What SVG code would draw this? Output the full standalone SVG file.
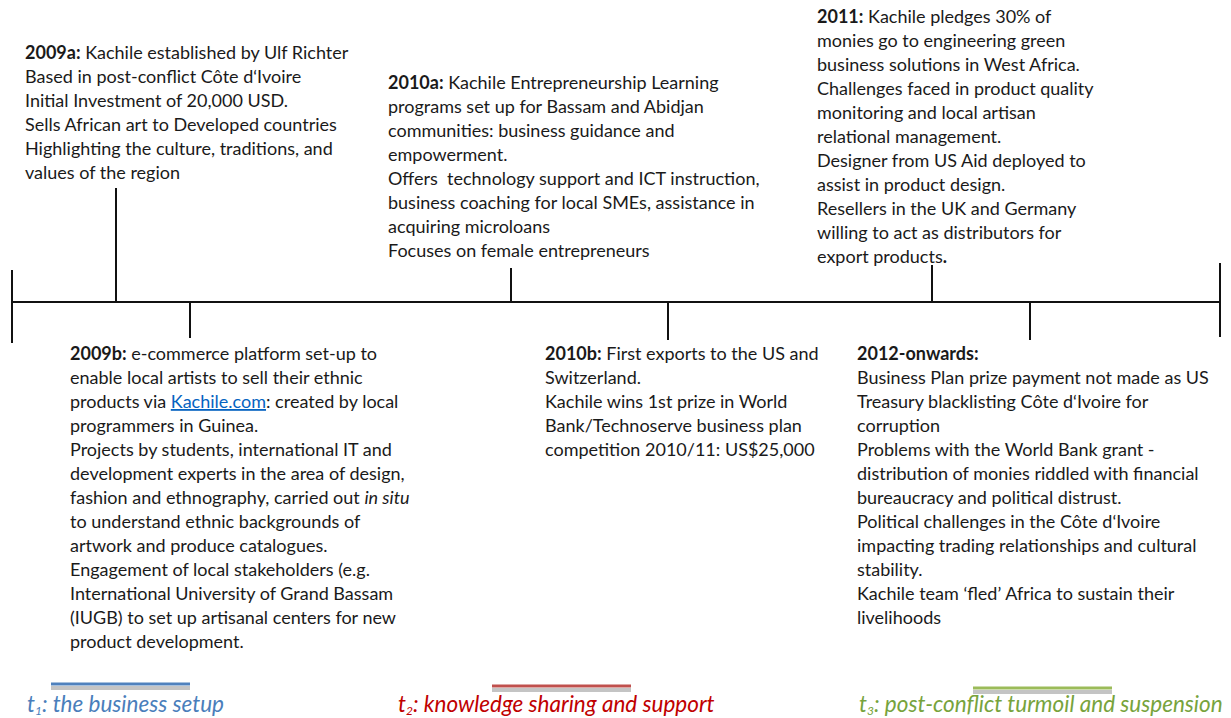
<svg xmlns="http://www.w3.org/2000/svg" width="1231" height="718" viewBox="0 0 1231 718">
  <defs>
    <style>
      .txt { font-family: Lato, "Open Sans", sans-serif; font-size: 18px; fill: #1a1a1a; }
      .b { font-weight: bold; }
      .link { fill: #0563C1; text-decoration: underline; }
      .axis { stroke: #111; stroke-width: 2; fill: none; }
      .leg { font-family: Lato, "Open Sans", sans-serif; font-size: 22.5px; font-style: italic; }
      .sub { font-size: 12px; }
      .shadow { stroke: #c4c4c4; stroke-width: 4; }
    </style>
  </defs>
  <rect width="1231" height="718" fill="#ffffff"/>

  <g id="connectors">
    <line class="axis" x1="12" y1="302" x2="1220" y2="302"/>
    <line class="axis" x1="12" y1="270" x2="12" y2="343"/>
    <line class="axis" x1="1220" y1="263" x2="1220" y2="337"/>
    <line class="axis" x1="116" y1="188" x2="116" y2="302"/>
    <line class="axis" x1="511" y1="268" x2="511" y2="302"/>
    <line class="axis" x1="932" y1="265" x2="932" y2="302"/>
    <line class="axis" x1="190" y1="302" x2="190" y2="338"/>
    <line class="axis" x1="668" y1="302" x2="668" y2="340"/>
    <line class="axis" x1="1030" y1="302" x2="1030" y2="340"/>
  </g>

  <g id="event-2009a">
    <text class="txt" x="25" y="59">
      <tspan class="b">2009a:</tspan> Kachile established by Ulf Richter
      <tspan x="25" dy="24">Based in post-conflict Côte d‘Ivoire</tspan>
      <tspan x="25" dy="24">Initial Investment of 20,000 USD.</tspan>
      <tspan x="25" dy="24">Sells African art to Developed countries</tspan>
      <tspan x="25" dy="24">Highlighting the culture, traditions, and</tspan>
      <tspan x="25" dy="24">values of the region</tspan>
    </text>
  </g>

  <g id="event-2010a">
    <text class="txt" x="388" y="89">
      <tspan class="b">2010a:</tspan> Kachile Entrepreneurship Learning
      <tspan x="388" dy="24">programs set up for Bassam and Abidjan</tspan>
      <tspan x="388" dy="24">communities: business guidance and</tspan>
      <tspan x="388" dy="24">empowerment.</tspan>
      <tspan x="388" dy="24">Offers&#160; technology support and ICT instruction,</tspan>
      <tspan x="388" dy="24">business coaching for local SMEs, assistance in</tspan>
      <tspan x="388" dy="24">acquiring microloans</tspan>
      <tspan x="388" dy="24">Focuses on female entrepreneurs</tspan>
    </text>
  </g>

  <g id="event-2011">
    <text class="txt" x="817" y="23">
      <tspan class="b">2011:</tspan> Kachile pledges 30% of
      <tspan x="817" dy="24">monies go to engineering green</tspan>
      <tspan x="817" dy="24">business solutions in West Africa.</tspan>
      <tspan x="817" dy="24">Challenges faced in product quality</tspan>
      <tspan x="817" dy="24">monitoring and local artisan</tspan>
      <tspan x="817" dy="24">relational management.</tspan>
      <tspan x="817" dy="24">Designer from US Aid deployed to</tspan>
      <tspan x="817" dy="24">assist in product design.</tspan>
      <tspan x="817" dy="24">Resellers in the UK and Germany</tspan>
      <tspan x="817" dy="24">willing to act as distributors for</tspan>
      <tspan x="817" dy="24">export products<tspan class="b">.</tspan></tspan>
    </text>
  </g>

  <g id="event-2009b">
    <text class="txt" x="70" y="360">
      <tspan class="b">2009b:</tspan> e-commerce platform set-up to
      <tspan x="70" dy="24">enable local artists to sell their ethnic</tspan>
      <tspan x="70" dy="24">products via <tspan class="link">Kachile.com</tspan>: created by local</tspan>
      <tspan x="70" dy="24">programmers in Guinea.</tspan>
      <tspan x="70" dy="24">Projects by students, international IT and</tspan>
      <tspan x="70" dy="24">development experts in the area of design,</tspan>
      <tspan x="70" dy="24">fashion and ethnography, carried out <tspan font-style="italic">in situ</tspan></tspan>
      <tspan x="70" dy="24">to understand ethnic backgrounds of</tspan>
      <tspan x="70" dy="24">artwork and produce catalogues.</tspan>
      <tspan x="70" dy="24">Engagement of local stakeholders (e.g.</tspan>
      <tspan x="70" dy="24">International University of Grand Bassam</tspan>
      <tspan x="70" dy="24">(IUGB) to set up artisanal centers for new</tspan>
      <tspan x="70" dy="24">product development.</tspan>
    </text>
  </g>

  <g id="event-2010b">
    <text class="txt" x="545" y="360">
      <tspan class="b">2010b:</tspan> First exports to the US and
      <tspan x="545" dy="24">Switzerland.</tspan>
      <tspan x="545" dy="24">Kachile wins 1st prize in World</tspan>
      <tspan x="545" dy="24">Bank/Technoserve business plan</tspan>
      <tspan x="545" dy="24">competition 2010/11: US$25,000</tspan>
    </text>
  </g>

  <g id="event-2012">
    <text class="txt" x="857" y="360">
      <tspan class="b">2012-onwards:</tspan>
      <tspan x="857" dy="24">Business Plan prize payment not made as US</tspan>
      <tspan x="857" dy="24">Treasury blacklisting Côte d‘Ivoire for</tspan>
      <tspan x="857" dy="24">corruption</tspan>
      <tspan x="857" dy="24">Problems with the World Bank grant -</tspan>
      <tspan x="857" dy="24">distribution of monies riddled with financial</tspan>
      <tspan x="857" dy="24">bureaucracy and political distrust.</tspan>
      <tspan x="857" dy="24">Political challenges in the Côte d‘Ivoire</tspan>
      <tspan x="857" dy="24">impacting trading relationships and cultural</tspan>
      <tspan x="857" dy="24">stability.</tspan>
      <tspan x="857" dy="24">Kachile team ‘fled’ Africa to sustain their</tspan>
      <tspan x="857" dy="24">livelihoods</tspan>
    </text>
  </g>

  <g id="legend-t1">
    <line class="shadow" x1="51" y1="688" x2="190" y2="688"/>
    <line x1="51" y1="684" x2="190" y2="684" stroke="#4F81BD" stroke-width="3"/>
    <text class="leg" x="27" y="712" fill="#4A7EBB">t<tspan class="sub" dy="3">1</tspan><tspan dy="-3">: the business setup</tspan></text>
  </g>
  <g id="legend-t2">
    <line class="shadow" x1="492" y1="690" x2="631" y2="690"/>
    <line x1="492" y1="686" x2="631" y2="686" stroke="#C0504D" stroke-width="3"/>
    <text class="leg" x="398" y="712" fill="#C00000">t<tspan class="sub" dy="3">2</tspan><tspan dy="-3">: knowledge sharing and support</tspan></text>
  </g>
  <g id="legend-t3">
    <line class="shadow" x1="973" y1="692" x2="1112" y2="692"/>
    <line x1="973" y1="688" x2="1112" y2="688" stroke="#9BBB59" stroke-width="3"/>
    <text class="leg" x="859" y="712" fill="#77A33C">t<tspan class="sub" dy="3">3</tspan><tspan dy="-3">: post-conflict turmoil and suspension</tspan></text>
  </g>
</svg>
